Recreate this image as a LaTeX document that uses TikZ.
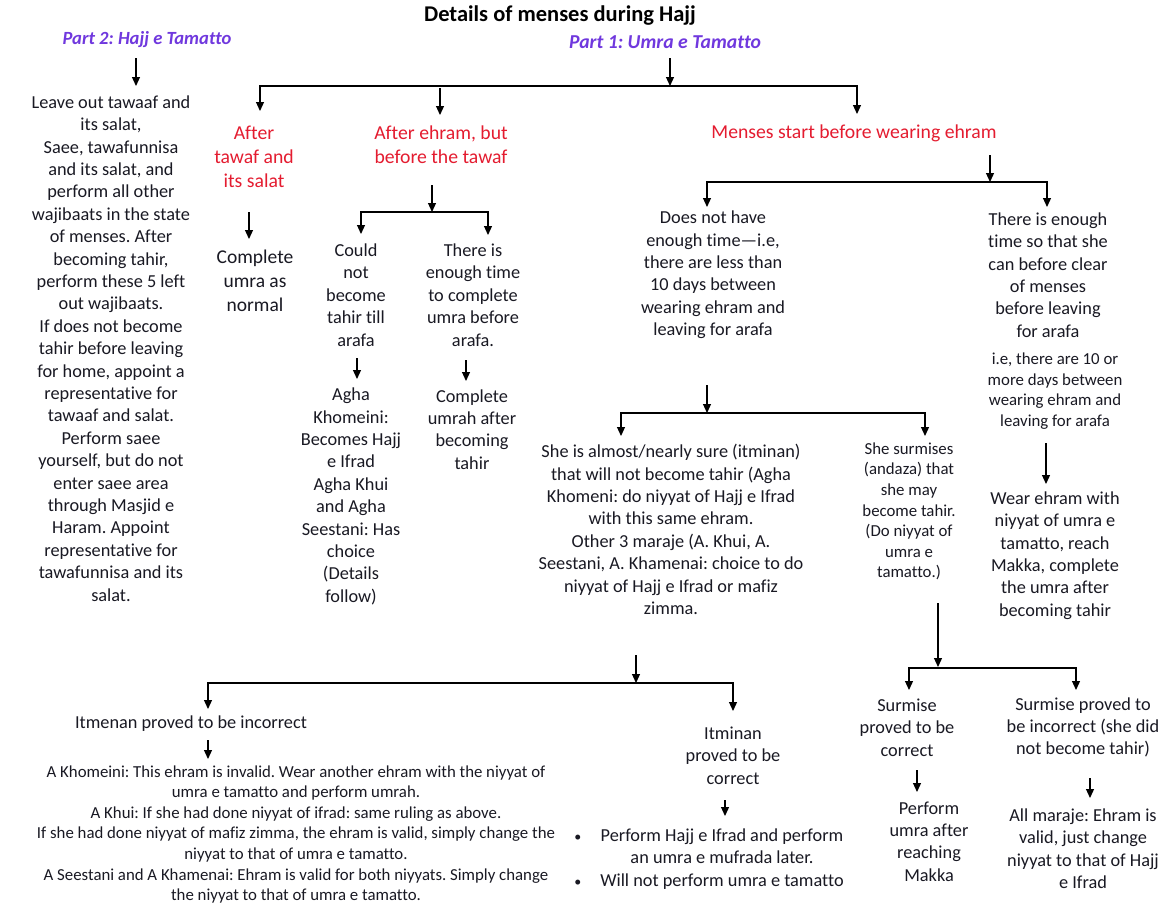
\documentclass[tikz,border=0pt]{standalone}
\usepackage{fontspec}
\setmainfont{Carlito}[Ligatures=NoCommon]
\usetikzlibrary{arrows.meta}
\definecolor{ink}{RGB}{25,25,35}
\definecolor{hred}{RGB}{228,28,48}
\definecolor{hpurp}{RGB}{112,56,222}
\newcommand\myfs[2]{\fontsize{#1}{#2}\selectfont}
\frenchspacing
\begin{document}
\frenchspacing
\begin{tikzpicture}[x=1pt,y=-1pt,
 body/.style={align=center,inner sep=0pt,text=ink,font=\myfs{18.3}{22.4}},
 small/.style={align=center,inner sep=0pt,text=ink,font=\myfs{16.8}{20.6}},
 head/.style={align=center,inner sep=0pt,text=hred,font=\myfs{19.7}{24}},
 big/.style={align=center,inner sep=0pt,text=ink,font=\myfs{19.5}{24}},
 part/.style={inner sep=0pt,text=hpurp,font=\myfs{19.7}{24}\bfseries\itshape},
 ttl/.style={inner sep=0pt,text=black,font=\myfs{22.5}{26}\bfseries},
 arr/.style={-{Triangle[width=8pt,length=9pt]},line width=1.2pt},
 barr/.style={{Triangle[width=8pt,length=9pt]}-{Triangle[width=8pt,length=9pt]},line width=1.2pt},
]
\useasboundingbox (0,0) rectangle (1172,905);
\fill[white] (0,0) rectangle (1172,905);

% titles
\node[ttl] (title) at (560,16) {Details of menses during Hajj};
\node[part,font=\myfs{18.6}{24}\bfseries\itshape] (p2) at (147,40) {Part 2: Hajj e Tamatto};
\node[part] (p1) at (665,42) {Part 1: Umra e Tamatto};

% left column
\node[body] (left) at (111,348.5) {Leave out tawaaf and\\its salat,\\Saee, tawafunnisa\\and its salat, and\\perform all other\\wajibaats in the state\\of menses. After\\becoming tahir,\\perform these 5 left\\out wajibaats.\\If does not become\\tahir before leaving\\for home, appoint a\\representative for\\tawaaf and salat.\\Perform saee\\yourself, but do not\\enter saee area\\through Masjid e\\Haram. Appoint\\representative for\\tawafunnisa and its\\salat.};

% level 1 headings
\node[head] (aftertawaf) at (254,157) {After\\tawaf and\\its salat};
\node[head] (afterehram) at (441,145) {After ehram, but\\before the tawaf};
\node[head] (menses) at (854,133) {Menses start before wearing ehram};

\node[big] (complete) at (255,281) {Complete\\umra as\\normal};

\node[body] (couldnot) at (356,295) {Could\\not\\become\\tahir till\\arafa};
\node[body] (agha) at (351,496.5) {Agha\\Khomeini:\\Becomes Hajj\\e Ifrad\\Agha Khui\\and Agha\\Seestani: Has\\choice\\(Details\\follow)};
\node[body] (enough1) at (473,295) {There is\\enough time\\to complete\\umra before\\arafa.};
\node[body] (complete2) at (472,429.5) {Complete\\umrah after\\becoming\\tahir};

\node[body] (notenough) at (713,275) {Does not have\\enough time—i.e,\\there are less than\\10 days between\\wearing ehram and\\leaving for arafa};
\node[body] (enough2) at (1048,275) {There is enough\\time so that she\\can before clear\\of menses\\before leaving\\for arafa};
\node[small] (ie10) at (1055,391) {i.e, there are 10 or\\more days between\\wearing ehram and\\leaving for arafa};
\node[body] (wear) at (1055,555.5) {Wear ehram with\\niyyat of umra e\\tamatto, reach\\Makka, complete\\the umra after\\becoming tahir};

\node[body] (sure) at (671,529.5) {She is almost/nearly sure (itminan)\\that will not become tahir (Agha\\Khomeni: do niyyat of Hajj e Ifrad\\with this same ehram.\\Other 3 maraje (A. Khui, A.\\Seestani, A. Khamenai: choice to do\\niyyat of Hajj e Ifrad or mafiz\\zimma.};
\node[small] (surmises) at (909,511.5) {She surmises\\(andaza) that\\she may\\become tahir.\\(Do niyyat of\\umra e\\tamatto.)};

\node[body] (scorrect) at (907,727.5) {Surmise\\proved to be\\correct};
\node[body] (performumra) at (929,841.5) {Perform\\umra after\\reaching\\Makka};
\node[body] (sincorrect) at (1083,727.5) {Surmise proved to\\be incorrect (she did\\not become tahir)};
\node[body] (allmaraje) at (1083,848.5) {All maraje: Ehram is\\valid, just change\\niyyat to that of Hajj\\e Ifrad};

\node[body] (itmenan) at (191,724) {Itmenan proved to be incorrect};
\node[small] (rulings) at (296,834.5) {A Khomeini: This ehram is invalid. Wear another ehram with the niyyat of\\umra e tamatto and perform umrah.\\A Khui: If she had done niyyat of ifrad: same ruling as above.\\If she had done niyyat of mafiz zimma, the ehram is valid, simply change the\\niyyat to that of umra e tamatto.\\A Seestani and A Khamenai: Ehram is valid for both niyyats. Simply change\\the niyyat to that of umra e tamatto.};
\node[body] (itminan) at (733,755.5) {Itminan\\proved to be\\correct};
\node[body] (bul) at (709,859.5) {\begin{tabular}{@{}c@{\hspace{19pt}}c@{}}{\myfs{14}{22.4}\textbullet} & Perform Hajj e Ifrad and perform\\ & an umra e mufrada later.\\ {\myfs{14}{22.4}\textbullet} & Will not perform umra e tamatto\end{tabular}};

% connector coordinates
\coordinate (p2a) at (136,58);   \coordinate (p2b) at (136,86);
\coordinate (p1a) at (670,58);   \coordinate (p1b) at (670,86);
\coordinate (hAl) at (260,86);   \coordinate (hAr) at (857,86);
\coordinate (tAl) at (260,111);  \coordinate (tAr) at (857,114);
\coordinate (mAa) at (440,88);   \coordinate (mAb) at (440,115);

\coordinate (c1a) at (249,212);  \coordinate (c1b) at (249,239);

\coordinate (c2a) at (432,185);  \coordinate (c2b) at (432,212);
\coordinate (hBl) at (361,212);  \coordinate (hBr) at (488,212);
\coordinate (tBl) at (361,234);  \coordinate (tBr) at (488,235);
\coordinate (c3a) at (357,358);  \coordinate (c3b) at (357,379);
\coordinate (c4a) at (466,360);  \coordinate (c4b) at (466,381);

\coordinate (c5a) at (990,155);  \coordinate (c5b) at (990,182);
\coordinate (hCl) at (707,182);  \coordinate (hCr) at (1047,182);
\coordinate (tCl) at (707,207);  \coordinate (tCr) at (1047,207);
\coordinate (c6a) at (1046,443); \coordinate (c6b) at (1046,484);

\coordinate (c7a) at (707,385);  \coordinate (c7b) at (707,413);
\coordinate (hDl) at (621,413);  \coordinate (hDr) at (925,413);
\coordinate (tDl) at (621,436);  \coordinate (tDr) at (925,436);

\coordinate (c8a) at (938,603);  \coordinate (c8b) at (938,667);
\coordinate (hEl) at (909,668);  \coordinate (hEr) at (1076,668);
\coordinate (tEl) at (909,690);  \coordinate (tEr) at (1076,690);
\coordinate (c9a) at (917,770);  \coordinate (c9b) at (917,792);
\coordinate (c10a) at (1090,778); \coordinate (c10b) at (1090,798);

\coordinate (c11a) at (636,655); \coordinate (c11b) at (636,683);
\coordinate (hFl) at (208,683);  \coordinate (hFr) at (733,683);
\coordinate (tFl) at (208,709);  \coordinate (tFr) at (733,711);
\coordinate (c12a) at (208,740); \coordinate (c12b) at (208,759);
\coordinate (c13a) at (725,800); \coordinate (c13b) at (725,816);

% connectors
\draw[arr] (p2a) -- (p2b);
\draw[arr] (p1a) -- (p1b);
\draw[barr] (tAl) -- (hAl) -- (hAr) -- (tAr);
\draw[arr] (mAa) -- (mAb);
\draw[arr] (c1a) -- (c1b);
\draw[arr] (c2a) -- (c2b);
\draw[barr] (tBl) -- (hBl) -- (hBr) -- (tBr);
\draw[arr] (c3a) -- (c3b);
\draw[arr] (c4a) -- (c4b);
\draw[arr] (c5a) -- (c5b);
\draw[barr] (tCl) -- (hCl) -- (hCr) -- (tCr);
\draw[arr] (c6a) -- (c6b);
\draw[arr] (c7a) -- (c7b);
\draw[barr] (tDl) -- (hDl) -- (hDr) -- (tDr);
\draw[arr] (c8a) -- (c8b);
\draw[barr] (tEl) -- (hEl) -- (hEr) -- (tEr);
\draw[arr] (c9a) -- (c9b);
\draw[arr] (c10a) -- (c10b);
\draw[arr] (c11a) -- (c11b);
\draw[barr] (tFl) -- (hFl) -- (hFr) -- (tFr);
\draw[arr] (c12a) -- (c12b);
\draw[arr] (c13a) -- (c13b);
\end{tikzpicture}
\end{document}
